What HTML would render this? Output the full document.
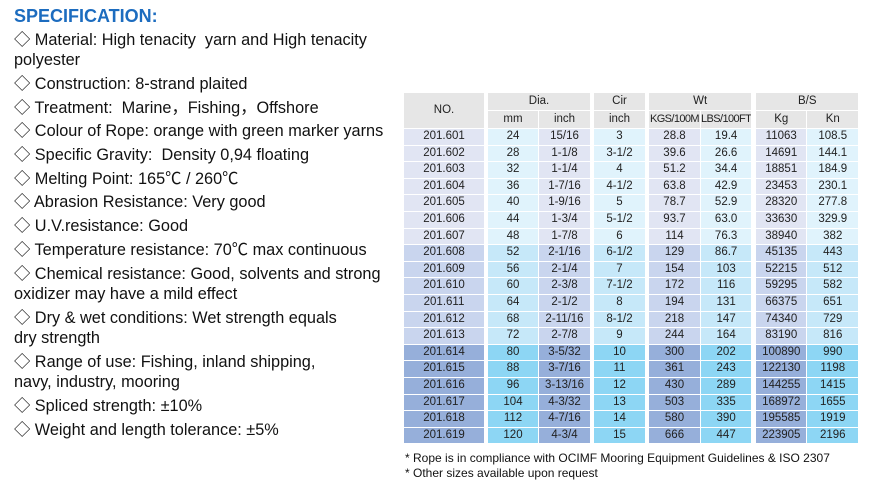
<!DOCTYPE html>
<html><head><meta charset="utf-8"><style>
body{margin:0;width:870px;height:485px;background:#fff;position:relative;overflow:hidden;font-family:"Liberation Sans","Noto Sans CJK SC",sans-serif;}
.t{position:absolute;left:14px;font-size:16.3px;color:#111;white-space:nowrap;line-height:20px;}
.h{position:absolute;left:14px;top:6px;font-size:18px;font-weight:bold;color:#1c6cbf;}
table{position:absolute;left:403px;top:92px;border-collapse:separate;border-spacing:1px;table-layout:fixed;font-size:11.5px;color:#222;text-align:center;}
td{padding:0;height:15.6px;line-height:15.6px;overflow:hidden;white-space:nowrap;}
.g{background:#fff;}
.hd{background:#e6e6e6;height:17px;line-height:17px;}
tr.a td.n,tr.a td.d{background:#e1e5f3}
tr.a td.l{background:#e0f3fc}
tr.b td.n,tr.b td.d{background:#c9d5ee}
tr.b td.l{background:#c6e8f9}
tr.c td.n,tr.c td.d{background:#96afda}
tr.c td.l{background:#8dd6f4}
td.n{font-size:11.5px;}
.f{position:absolute;left:405px;font-size:12px;color:#111;white-space:nowrap;}
</style></head><body>
<div class="h">SPECIFICATION:</div>
<div class="t" style="top:30px">◇ Material: High tenacity&nbsp; yarn and High tenacity</div>
<div class="t" style="top:50px">polyester</div>
<div class="t" style="top:74px">◇ Construction: 8-strand plaited</div>
<div class="t" style="top:98px">◇ Treatment:&nbsp; Marine，Fishing，Offshore</div>
<div class="t" style="top:121px">◇ Colour of Rope: orange with green marker yarns</div>
<div class="t" style="top:145px">◇ Specific Gravity:&nbsp; Density 0,94 floating</div>
<div class="t" style="top:169px">◇ Melting Point: 165℃ / 260℃</div>
<div class="t" style="top:192px">◇ Abrasion Resistance: Very good</div>
<div class="t" style="top:216px">◇ U.V.resistance: Good</div>
<div class="t" style="top:240px">◇ Temperature resistance: 70℃ max continuous</div>
<div class="t" style="top:264px">◇ Chemical resistance: Good, solvents and strong</div>
<div class="t" style="top:284px">oxidizer may have a mild effect</div>
<div class="t" style="top:308px">◇ Dry &amp; wet conditions: Wet strength equals</div>
<div class="t" style="top:328px">dry strength</div>
<div class="t" style="top:352px">◇ Range of use: Fishing, inland shipping,</div>
<div class="t" style="top:372px">navy, industry, mooring</div>
<div class="t" style="top:396px">◇ Spliced strength: ±10%</div>
<div class="t" style="top:420px">◇ Weight and length tolerance: ±5%</div>

<table>
<colgroup><col style="width:80px"><col style="width:2px"><col style="width:50px"><col style="width:51px"><col style="width:2px"><col style="width:51px"><col style="width:2px"><col style="width:51px"><col style="width:50px"><col style="width:3px"><col style="width:50px"><col style="width:51px"></colgroup>
<tr><td class="hd" rowspan="2">NO.</td><td class="g" rowspan="21"></td><td class="hd" colspan="2">Dia.</td><td class="g" rowspan="21"></td><td class="hd">Cir</td><td class="g" rowspan="21"></td><td class="hd" colspan="2">Wt</td><td class="g" rowspan="21"></td><td class="hd" colspan="2">B/S</td></tr>
<tr><td class="hd">mm</td><td class="hd">inch</td><td class="hd">inch</td><td class="hd" style="letter-spacing:-0.6px;font-size:11px">KGS/100M</td><td class="hd" style="letter-spacing:-0.6px;font-size:11px">LBS/100FT</td><td class="hd">Kg</td><td class="hd">Kn</td></tr>
<tr class="a"><td class="n">201.601</td><td class="l">24</td><td class="d">15/16</td><td class="l">3</td><td class="d">28.8</td><td class="l">19.4</td><td class="d">11063</td><td class="l">108.5</td></tr>
<tr class="a"><td class="n">201.602</td><td class="l">28</td><td class="d">1-1/8</td><td class="l">3-1/2</td><td class="d">39.6</td><td class="l">26.6</td><td class="d">14691</td><td class="l">144.1</td></tr>
<tr class="a"><td class="n">201.603</td><td class="l">32</td><td class="d">1-1/4</td><td class="l">4</td><td class="d">51.2</td><td class="l">34.4</td><td class="d">18851</td><td class="l">184.9</td></tr>
<tr class="a"><td class="n">201.604</td><td class="l">36</td><td class="d">1-7/16</td><td class="l">4-1/2</td><td class="d">63.8</td><td class="l">42.9</td><td class="d">23453</td><td class="l">230.1</td></tr>
<tr class="a"><td class="n">201.605</td><td class="l">40</td><td class="d">1-9/16</td><td class="l">5</td><td class="d">78.7</td><td class="l">52.9</td><td class="d">28320</td><td class="l">277.8</td></tr>
<tr class="a"><td class="n">201.606</td><td class="l">44</td><td class="d">1-3/4</td><td class="l">5-1/2</td><td class="d">93.7</td><td class="l">63.0</td><td class="d">33630</td><td class="l">329.9</td></tr>
<tr class="a"><td class="n">201.607</td><td class="l">48</td><td class="d">1-7/8</td><td class="l">6</td><td class="d">114</td><td class="l">76.3</td><td class="d">38940</td><td class="l">382</td></tr>
<tr class="b"><td class="n">201.608</td><td class="l">52</td><td class="d">2-1/16</td><td class="l">6-1/2</td><td class="d">129</td><td class="l">86.7</td><td class="d">45135</td><td class="l">443</td></tr>
<tr class="b"><td class="n">201.609</td><td class="l">56</td><td class="d">2-1/4</td><td class="l">7</td><td class="d">154</td><td class="l">103</td><td class="d">52215</td><td class="l">512</td></tr>
<tr class="b"><td class="n">201.610</td><td class="l">60</td><td class="d">2-3/8</td><td class="l">7-1/2</td><td class="d">172</td><td class="l">116</td><td class="d">59295</td><td class="l">582</td></tr>
<tr class="b"><td class="n">201.611</td><td class="l">64</td><td class="d">2-1/2</td><td class="l">8</td><td class="d">194</td><td class="l">131</td><td class="d">66375</td><td class="l">651</td></tr>
<tr class="b"><td class="n">201.612</td><td class="l">68</td><td class="d">2-11/16</td><td class="l">8-1/2</td><td class="d">218</td><td class="l">147</td><td class="d">74340</td><td class="l">729</td></tr>
<tr class="b"><td class="n">201.613</td><td class="l">72</td><td class="d">2-7/8</td><td class="l">9</td><td class="d">244</td><td class="l">164</td><td class="d">83190</td><td class="l">816</td></tr>
<tr class="c"><td class="n">201.614</td><td class="l">80</td><td class="d">3-5/32</td><td class="l">10</td><td class="d">300</td><td class="l">202</td><td class="d">100890</td><td class="l">990</td></tr>
<tr class="c"><td class="n">201.615</td><td class="l">88</td><td class="d">3-7/16</td><td class="l">11</td><td class="d">361</td><td class="l">243</td><td class="d">122130</td><td class="l">1198</td></tr>
<tr class="c"><td class="n">201.616</td><td class="l">96</td><td class="d">3-13/16</td><td class="l">12</td><td class="d">430</td><td class="l">289</td><td class="d">144255</td><td class="l">1415</td></tr>
<tr class="c"><td class="n">201.617</td><td class="l">104</td><td class="d">4-3/32</td><td class="l">13</td><td class="d">503</td><td class="l">335</td><td class="d">168972</td><td class="l">1655</td></tr>
<tr class="c"><td class="n">201.618</td><td class="l">112</td><td class="d">4-7/16</td><td class="l">14</td><td class="d">580</td><td class="l">390</td><td class="d">195585</td><td class="l">1919</td></tr>
<tr class="c"><td class="n">201.619</td><td class="l">120</td><td class="d">4-3/4</td><td class="l">15</td><td class="d">666</td><td class="l">447</td><td class="d">223905</td><td class="l">2196</td></tr>
</table>
<div class="f" style="top:451px">* Rope is in compliance with OCIMF Mooring Equipment Guidelines &amp; ISO 2307</div>
<div class="f" style="top:466px">* Other sizes available upon request</div>
</body></html>
